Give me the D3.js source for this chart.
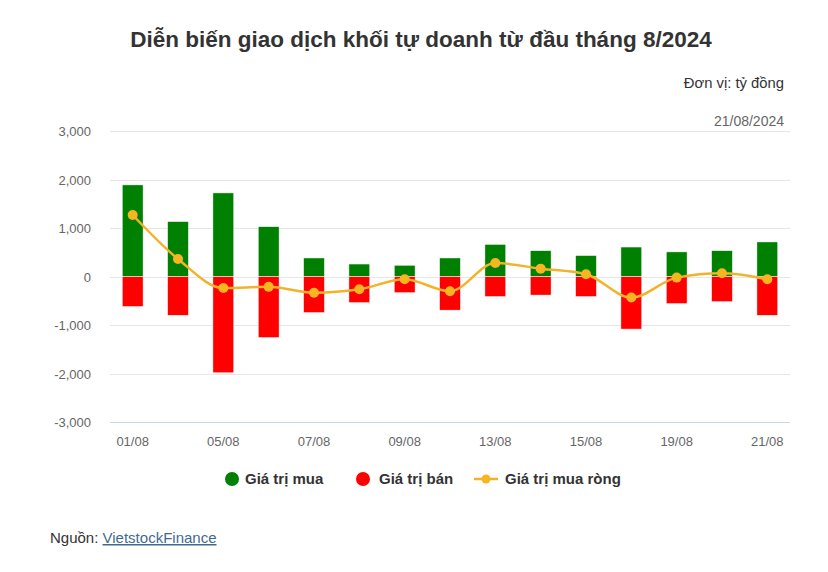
<!DOCTYPE html>
<html><head><meta charset="utf-8">
<script src="https://cdn.jsdelivr.net/npm/d3@7"></script>
<style>
body{margin:0;background:#fff;}
svg{font-family:"Liberation Sans",Arial,sans-serif;}
</style></head>
<body>
<svg id="c" width="828" height="572"></svg>
<script>
const categories = ["01/08","02/08","05/08","06/08","07/08","08/08","09/08","12/08","13/08","14/08","15/08","16/08","19/08","20/08","21/08"];
const buyValues  = [1890,1135,1725,1030,385,260,235,385,665,535,435,610,510,535,715];
const sellValues = [-615,-795,-1980,-1255,-740,-535,-330,-690,-410,-380,-410,-1080,-555,-515,-795];
const netValues  = [1270,365,-235,-210,-330,-260,-55,-300,280,165,50,-430,-20,70,-55];
const yTicks = [-3000,-2000,-1000,0,1000,2000,3000];
const xTickLabels = ["01/08","05/08","07/08","09/08","13/08","15/08","19/08","21/08"];

const svg = d3.select("#c");
const x = d3.scaleBand().domain(categories).range([110,790]).paddingInner(0.54).paddingOuter(0.27);
const y = d3.scaleLinear().domain([-3000,3000]).range([422.3,131]);
const fmt = d => d3.format(",")(d).replace("\u2212","-");

// grid
svg.append("g").selectAll("line").data(yTicks).join("line")
  .attr("x1",110).attr("x2",790)
  .attr("y1",d=>Math.round(y(d))+0.5).attr("y2",d=>Math.round(y(d))+0.5)
  .attr("stroke",d=>d===-3000?"#ccd6eb":"#e6e6e6").attr("stroke-width",1);

// y labels
svg.append("g").selectAll("text").data(yTicks).join("text")
  .attr("x",91).attr("y",d=>y(d)+5).attr("text-anchor","end")
  .attr("font-size",13).attr("fill","#666").text(d=>fmt(d));

// x labels
svg.append("g").selectAll("text").data(xTickLabels).join("text")
  .attr("x",d=>x(d)+x.bandwidth()/2).attr("y",446).attr("text-anchor","middle")
  .attr("font-size",13).attr("fill","#666").text(d=>d);

// bars
svg.append("g").selectAll("rect").data(categories).join("rect")
  .attr("x",d=>x(d)).attr("width",x.bandwidth())
  .attr("y",(d,i)=>y(buyValues[i])).attr("height",(d,i)=>y(0)-y(buyValues[i]))
  .attr("fill","#008000").attr("stroke","#fff").attr("stroke-width",0.5);
svg.append("g").selectAll("rect").data(categories).join("rect")
  .attr("x",d=>x(d)).attr("width",x.bandwidth())
  .attr("y",y(0)).attr("height",(d,i)=>y(sellValues[i])-y(0))
  .attr("fill","#ff0000").attr("stroke","#fff").attr("stroke-width",0.5);

// net line
const lineColor = "#f2b32a";
const pts = categories.map((c,i)=>[x(c)+x.bandwidth()/2, y(netValues[i])]);
svg.append("path").attr("d",d3.line().curve(d3.curveMonotoneX)(pts))
  .attr("fill","none").attr("stroke",lineColor).attr("stroke-width",2.5);
svg.append("g").selectAll("circle").data(pts).join("circle")
  .attr("cx",d=>d[0]).attr("cy",d=>d[1]).attr("r",5).attr("fill","#f7b521");

// title
svg.append("text").attr("x",421).attr("y",47).attr("text-anchor","middle")
  .attr("font-size",22.5).attr("font-weight","bold").attr("fill","#333")
  .text("Diễn biến giao dịch khối tự doanh từ đầu tháng 8/2024");
svg.append("text").attr("x",784).attr("y",88).attr("text-anchor","end")
  .attr("font-size",14.8).attr("fill","#333").text("Đơn vị: tỷ đồng");
svg.append("text").attr("x",784).attr("y",126).attr("text-anchor","end")
  .attr("font-size",14).attr("fill","#666").text("21/08/2024");

// legend
const lg = svg.append("g").attr("font-size",15).attr("font-weight","bold").attr("fill","#333");
lg.append("circle").attr("cx",232).attr("cy",479).attr("r",7).attr("fill","#008000");
lg.append("text").attr("x",245).attr("y",484).text("Giá trị mua");
lg.append("circle").attr("cx",363).attr("cy",479).attr("r",7).attr("fill","#ff0000");
lg.append("text").attr("x",379).attr("y",484).text("Giá trị bán");
lg.append("line").attr("x1",474).attr("x2",498).attr("y1",479).attr("y2",479).attr("stroke",lineColor).attr("stroke-width",2.5);
lg.append("circle").attr("cx",486).attr("cy",479).attr("r",4.5).attr("fill","#f7b521");
lg.append("text").attr("x",505).attr("y",484).text("Giá trị mua ròng");

// source
const src = svg.append("text").attr("x",50).attr("y",543).attr("font-size",15).attr("fill","#333");
src.append("tspan").text("Nguồn: ");
src.append("tspan").attr("fill","#3f6b8f").attr("text-decoration","underline").text("VietstockFinance");
</script>
</body></html>
